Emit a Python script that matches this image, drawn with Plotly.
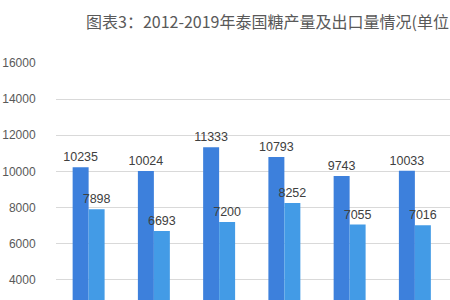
import plotly.graph_objects as go

years = ["2012", "2013", "2014", "2015", "2016", "2017", "2018", "2019"]
production = [10235, 10024, 11333, 10793, 9743, 10033, 14710, 14580]
exports = [7898, 6693, 7200, 8252, 7055, 7016, 10850, 10600]
y_ticks = [0, 2000, 4000, 6000, 8000, 10000, 12000, 14000, 16000]
y_tick_text = ["0", "2000", "4000", "6000", "8000", "10000", "12000", "14000", "16000"]

W, H = 600, 420

fig = go.Figure()
fig.add_trace(go.Bar(
    x=years, y=production, name="产量",
    marker=dict(color="#3d80dc", line=dict(width=0)),
    text=[str(v) for v in production], textposition="outside",
    constraintext="none", textangle=0,
    textfont=dict(size=12.5, color="#404040", family="Arial, Liberation Sans"),
    cliponaxis=False,
))
fig.add_trace(go.Bar(
    x=years, y=exports, name="出口量",
    marker=dict(color="#439be6", line=dict(width=0)),
    text=[str(v) for v in exports], textposition="outside",
    constraintext="none", textangle=0,
    textfont=dict(size=12.5, color="#404040", family="Arial, Liberation Sans"),
    cliponaxis=False,
))

fig.update_layout(
    width=W, height=H,
    margin=dict(l=56, r=22, t=63, b=68, autoexpand=False),
    paper_bgcolor="white", plot_bgcolor="white",
    barmode="group", bargap=0.51, bargroupgap=0,
    showlegend=True,
    legend=dict(orientation="h", x=0.5, xanchor="center", y=-0.12,
                font=dict(size=12, color="#595959")),
    title=dict(
        text="图表3：2012-2019年泰国糖产量及出口量情况(单位：千吨)",
        x=86 / W, xref="container", xanchor="left",
        y=1 - 22 / H, yref="container", yanchor="middle",
        font=dict(size=16, color="#595959",
                  family="Noto Sans CJK SC, Liberation Sans, sans-serif"),
    ),
    font=dict(family="Liberation Sans, Arial, sans-serif"),
)

fig.update_yaxes(
    range=[0, 16000], tickvals=y_ticks, ticktext=y_tick_text,
    showgrid=True, gridcolor="#d9d9d9", gridwidth=1,
    zeroline=False, showline=False, automargin=False,
    tickfont=dict(size=12, color="#595959"),
    ticks="outside", ticklen=17, tickcolor="white",
)
fig.update_xaxes(
    showgrid=False, showline=True, linecolor="#d9d9d9", automargin=False,
    tickfont=dict(size=12, color="#595959"),
)

fig.write_html("out.html")
